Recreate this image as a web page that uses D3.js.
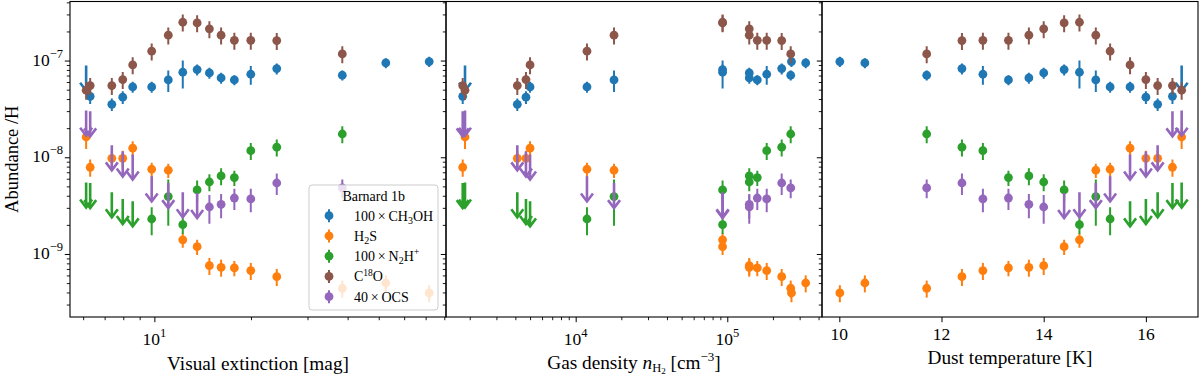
<!DOCTYPE html>
<html><head><meta charset="utf-8">
<script src="https://cdn.jsdelivr.net/npm/d3@7"></script>
<style>
body{margin:0;background:#fff}
svg{display:block}
text{font-family:"Liberation Serif","Times New Roman",serif;fill:#000}
</style>
</head><body>
<svg id="chart" width="1200" height="377"></svg>
<script>
// ---------------- data (17 positions in Barnard 1b) ----------------
const avData   = [71.8, 52.6, 38.5, 24.06, 19.97, 17.75, 16.14, 14.84, 13.59, 12.26, 11.05, 9.81, 8.56, 7.97, 7.37, 6.31, 6.13];
const nData    = [265000, 329000, 262000, 228500, 182000, 157700, 139600, 139600, 93100, 93100, 17900, 11870, 5000, 4700, 4120, 1798, 1862];
const tData    = [10.01, 10.50, 11.71, 12.40, 12.81, 13.31, 13.71, 14.00, 14.40, 14.70, 15.02, 15.30, 15.69, 16.00, 16.23, 16.52, 16.70];

const ch3oh    = [9.76e-8, 9.46e-8, 7.05e-8, 8.26e-8, 7.22e-8, 6.31e-8, 6.62e-8, 7.45e-8, 8.07e-8, 7.57e-8, 6.31e-8, 5.34e-8, 5.34e-8, 4.18e-8, 3.53e-8, 4.27e-8, 8.87e-8];
const ch3ohErr = [0.12, 0.12, 0.12, 0.13, 0.22, 0.12, 0.13, 0.13, 0.13, 0.32, 0.25, 0.13, 0.13, 0.15, 0.15, 0.17, 0];
const ch3ohLim = [0,0,0,0,0,0,0,0,0,0,0,0,0,0,0,0,1];

const h2s      = [3.96e-10, 5.01e-10, 4.42e-10, 5.83e-10, 6.73e-10, 7.17e-10, 7.28e-10, 7.57e-10, 1.19e-9, 1.40e-9, 7.34e-9, 7.52e-9, 1.24e-8, 9.76e-9, 9.76e-9, 7.88e-9, 1.62e-8];
const h2sErr   = [0.2, 0.2, 0.2, 0.2, 0.2, 0.18, 0.2, 0.2, 0.18, 0.17, 0.17, 0.17, 0.18, 0.2, 0.2, 0.2, 0.25];
const h2sLim   = [0,0,0,0,0,0,0,0,0,0,0,0,0,0,0,0,0];

const n2hp     = [null, null, 1.74e-8, 1.27e-8, 1.17e-8, 6.16e-9, 6.41e-9, 5.55e-9, 4.59e-9, 2.01e-9, 3.92e-9, 2.30e-9, 3.51e-9, 3.71e-9, 4.35e-9, 5.42e-9, 5.50e-9];
const n2hpErr  = [0, 0, 0.2, 0.2, 0.2, 0.18, 0.2, 0.2, 0.25, 0.2, 0.5, 0.32, 0, 0, 0, 0, 0];
const n2hpLim  = [0,0,0,0,0,0,0,0,0,0,0,0,1,1,1,1,1];

const c18o     = [null, null, 1.17e-7, 1.61e-7, 1.62e-7, 1.62e-7, 1.83e-7, 2.13e-7, 2.45e-7, 2.49e-7, 1.83e-7, 1.25e-7, 9.02e-8, 6.36e-8, 5.51e-8, 5.51e-8, 4.93e-8];
const c18oErr  = [0, 0, 0.2, 0.2, 0.2, 0.2, 0.2, 0.2, 0.2, 0.2, 0.2, 0.2, 0.2, 0.2, 0.2, 0.2, 0.2];
const c18oLim  = [0,0,0,0,0,0,0,0,0,0,0,0,0,0,0,0,0];

const ocs      = [null, null, 4.82e-9, 5.42e-9, 3.71e-9, 3.79e-9, 3.26e-9, 3.06e-9, 4.28e-9, 4.35e-9, 5.42e-9, 6.35e-9, 1.07e-8, 1.15e-8, 1.33e-8, 2.99e-8, 3.04e-8];
const ocsErr   = [0, 0, 0.22, 0.25, 0.27, 0.25, 0.28, 0.33, 0, 0, 0, 0, 0, 0, 0, 0, 0];
const ocsLim   = [0,0,0,0,0,0,0,0,1,1,1,1,1,1,1,1,1];

const speciesColors = ["#1f77b4", "#ff7f0e", "#2ca02c", "#8c564b", "#9467bd"];
const xTitles = ["Visual extinction [mag]", "Gas density", "Dust temperature [K]"];
const yTitle = "Abundance /H";
const legendTitle = "Barnard 1b";

// ---------------- layout ----------------
const svg = d3.select("#chart");
const yTop = 1.5, yBot = 317;
const panels = [
  {x0: 70,  x1: 446, data: avData, scale: d3.scaleLog().domain([5.46, 81.0]).range([70, 446]), log: true},
  {x0: 446, x1: 822, data: nData,  scale: d3.scaleLog().domain([1395, 4.214e5]).range([446, 822]), log: true},
  {x0: 822, x1: 1198, data: tData, scale: d3.scaleLinear().domain([9.661, 17.02]).range([822, 1198]), log: false}
];
const y = d3.scaleLog().domain([2.23e-10, 4.08e-7]).range([yBot, yTop]);

const species = [
  {v: ch3oh, e: ch3ohErr, lim: ch3ohLim, c: speciesColors[0]},
  {v: h2s,   e: h2sErr,   lim: h2sLim,   c: speciesColors[1]},
  {v: n2hp,  e: n2hpErr,  lim: n2hpLim,  c: speciesColors[2]},
  {v: c18o,  e: c18oErr,  lim: c18oLim,  c: speciesColors[3]},
  {v: ocs,   e: ocsErr,   lim: ocsLim,   c: speciesColors[4]}
];

const isMajorLog = v => Math.abs(Math.log10(v) - Math.round(Math.log10(v))) < 1e-9;

// ---------------- data marks ----------------
panels.forEach((p, pi) => {
  const clipId = "clip" + pi;
  svg.append("clipPath").attr("id", clipId).append("rect")
    .attr("x", p.x0).attr("y", yTop).attr("width", p.x1 - p.x0).attr("height", yBot - yTop);
  const g = svg.append("g").attr("clip-path", `url(#${clipId})`);
  species.forEach(sp => {
    const pts = p.data.map((xv, i) => ({x: xv, v: sp.v[i], e: sp.e[i], lim: sp.lim[i]}))
      .filter(d => d.v !== null);
    const det = pts.filter(d => !d.lim);
    const ul = pts.filter(d => d.lim);
    g.selectAll(null).data(det).enter().append("line")
      .attr("x1", d => p.scale(d.x)).attr("x2", d => p.scale(d.x))
      .attr("y1", d => y(d.v * (1 + d.e))).attr("y2", d => y(d.v * (1 - d.e)))
      .attr("stroke", sp.c).attr("stroke-width", 2);
    g.selectAll(null).data(det).enter().append("circle")
      .attr("cx", d => p.scale(d.x)).attr("cy", d => y(d.v)).attr("r", 4.4)
      .attr("fill", sp.c);
    ul.forEach(d => {
      const x = p.scale(d.x), y0 = y(d.v), y1 = y(d.v * 0.55);
      g.append("line").attr("x1", x).attr("x2", x).attr("y1", y0).attr("y2", y1 - 1)
        .attr("stroke", sp.c).attr("stroke-width", 2.6);
      g.append("path").attr("d", `M${x - 6},${y1 - 8}L${x},${y1}L${x + 6},${y1 - 8}`)
        .attr("fill", "none").attr("stroke", sp.c).attr("stroke-width", 2.6)
        .attr("stroke-linejoin", "miter");
    });
  });
});

// ---------------- axes ----------------
const axG = svg.append("g");
panels.forEach((p, pi) => {
  let majors, minors;
  if (p.log) {
    const t = p.scale.ticks();
    majors = t.filter(isMajorLog);
    minors = t.filter(v => !isMajorLog(v));
  } else {
    majors = [10, 12, 14, 16];
    minors = [];
  }
  axG.append("g").attr("transform", `translate(0,${yBot})`)
    .call(d3.axisBottom(p.scale).tickValues(minors).tickSize(3.2).tickFormat("").tickSizeOuter(0))
    .call(s => s.select(".domain").remove())
    .call(s => s.selectAll("line").attr("stroke", "#000").attr("stroke-width", 0.9));
  axG.append("g").attr("transform", `translate(0,${yBot})`)
    .call(d3.axisBottom(p.scale).tickValues(majors).tickSize(5.2).tickFormat("").tickSizeOuter(0))
    .call(s => s.select(".domain").remove())
    .call(s => s.selectAll("line").attr("stroke", "#000").attr("stroke-width", 1));
  majors.forEach(m => {
    if (p.log) {
      const t = axG.append("text").attr("x", p.scale(m)).attr("y", 345)
        .attr("text-anchor", "middle").attr("font-size", 17.5);
      t.append("tspan").text("10");
      t.append("tspan").attr("font-size", 12.5).attr("dy", -8).text(String(Math.round(Math.log10(m))));
    } else {
      axG.append("text").attr("x", p.scale(m)).attr("y", 340)
        .attr("text-anchor", "middle").attr("font-size", 17.5).text(String(m));
    }
  });
  const yt = y.ticks();
  const yMaj = yt.filter(isMajorLog), yMin = yt.filter(v => !isMajorLog(v));
  axG.append("g").attr("transform", `translate(${p.x0},0)`)
    .call(d3.axisLeft(y).tickValues(yMin).tickSize(3.2).tickFormat("").tickSizeOuter(0))
    .call(s => s.select(".domain").remove())
    .call(s => s.selectAll("line").attr("stroke", "#000").attr("stroke-width", 0.9));
  axG.append("g").attr("transform", `translate(${p.x0},0)`)
    .call(d3.axisLeft(y).tickValues(yMaj).tickSize(5.2).tickFormat("").tickSizeOuter(0))
    .call(s => s.select(".domain").remove())
    .call(s => s.selectAll("line").attr("stroke", "#000").attr("stroke-width", 1));
  if (pi === 0) {
    yMaj.forEach(m => {
      const t = axG.append("text").attr("x", 63).attr("y", y(m) + 5)
        .attr("text-anchor", "end").attr("font-size", 17.5);
      t.append("tspan").text("10");
      t.append("tspan").attr("font-size", 12.5).attr("dy", -8).text("\u2212" + Math.abs(Math.round(Math.log10(m))));
    });
  }
  axG.append("rect").attr("x", p.x0).attr("y", yTop).attr("width", p.x1 - p.x0).attr("height", yBot - yTop)
    .attr("fill", "none").attr("stroke", "#000").attr("stroke-width", 1.1);
});

// x titles
const cx = p => (p.x0 + p.x1) / 2;
axG.append("text").attr("x", cx(panels[0])).attr("y", 370).attr("text-anchor", "middle")
  .attr("font-size", 19.3).text(xTitles[0]);
{
  const t = axG.append("text").attr("x", cx(panels[1])).attr("y", 369).attr("text-anchor", "middle")
    .attr("font-size", 19.3);
  t.append("tspan").text(xTitles[1] + " ");
  t.append("tspan").attr("font-style", "italic").text("n");
  t.append("tspan").attr("font-size", 12.5).attr("dy", 3).text("H");
  t.append("tspan").attr("font-size", 9).attr("dy", 1.5).text("2");
  t.append("tspan").attr("dy", -4.5).text(" [cm");
  t.append("tspan").attr("font-size", 13).attr("dy", -8).text("\u22123");
  t.append("tspan").attr("dy", 8).text("]");
}
axG.append("text").attr("x", cx(panels[2])).attr("y", 364).attr("text-anchor", "middle")
  .attr("font-size", 19.3).text(xTitles[2]);

// y title
axG.append("text").attr("transform", `translate(17.5,${(yTop + yBot) / 2}) rotate(-90)`)
  .attr("text-anchor", "middle").attr("font-size", 18.5).text(yTitle);

// ---------------- legend ----------------
const lg = svg.append("g");
lg.append("rect").attr("x", 309).attr("y", 185).attr("width", 129).attr("height", 125)
  .attr("rx", 3).attr("fill", "#fff").attr("fill-opacity", 0.8)
  .attr("stroke", "#cccccc").attr("stroke-width", 1);
lg.append("text").attr("x", 373.7).attr("y", 200.5).attr("text-anchor", "middle")
  .attr("font-size", 14).text(legendTitle);
const legendLabels = [
  [["100\u2009\u00d7\u2009CH", 0, 14], ["3", 3, 10], ["OH", -3, 14]],
  [["H", 0, 14], ["2", 3, 10], ["S", -3, 14]],
  [["100\u2009\u00d7\u2009N", 0, 14], ["2", 3, 10], ["H", -3, 14], ["+", -6, 10]],
  [["C", 0, 14], ["18", -5, 9.5], ["O", 5, 14]],
  [["40\u2009\u00d7\u2009OCS", 0, 14]]
];
legendLabels.forEach((parts, i) => {
  const ry = 215.7 + i * 20.25;
  const col = speciesColors[i];
  lg.append("line").attr("x1", 329).attr("x2", 329).attr("y1", ry - 6.5).attr("y2", ry + 6.5)
    .attr("stroke", col).attr("stroke-width", 2);
  lg.append("circle").attr("cx", 329).attr("cy", ry).attr("r", 4.4).attr("fill", col);
  const t = lg.append("text").attr("x", 354).attr("y", ry + 5).attr("font-size", 14);
  parts.forEach(([s, dy, fs]) => t.append("tspan").attr("dy", dy).attr("font-size", fs).text(s));
});
</script>
</body></html>
